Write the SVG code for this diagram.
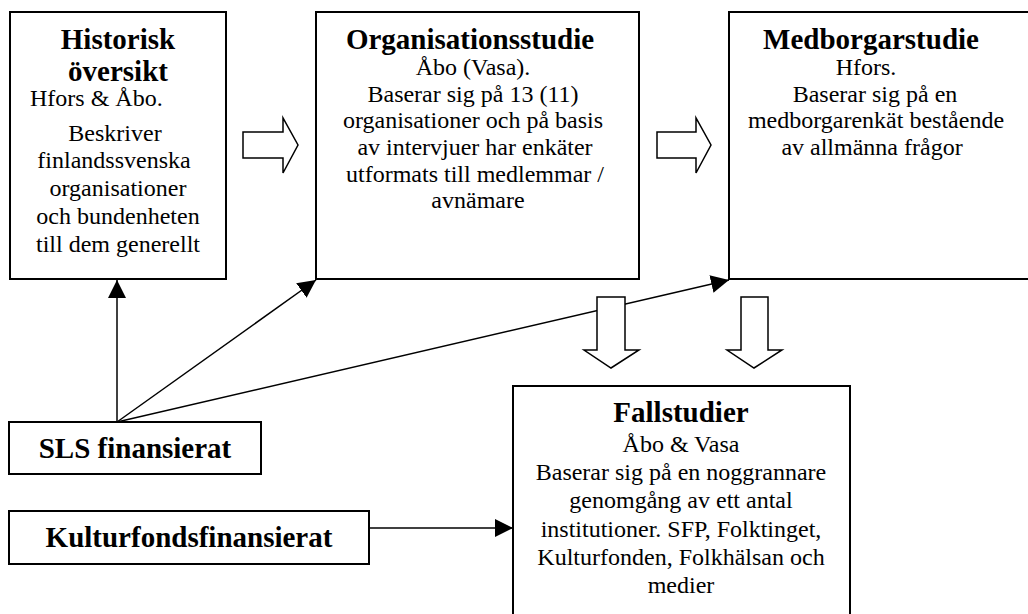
<svg xmlns="http://www.w3.org/2000/svg" width="1028" height="614" viewBox="0 0 1028 614">
<style>
.box{fill:#fff;stroke:#000;stroke-width:2}
.blk{fill:#fff;stroke:#000;stroke-width:1.5;stroke-linejoin:miter}
.ttl{font-family:"Liberation Serif","Times New Roman",serif;font-weight:bold;font-size:29px;text-anchor:middle;fill:#000}
.bdy{font-family:"Liberation Serif","Times New Roman",serif;font-weight:normal;font-size:24px;text-anchor:middle;fill:#000}
.con{fill:none;stroke:#000;stroke-width:1.5}
</style>
<defs>
<marker id="ah" markerUnits="userSpaceOnUse" markerWidth="18" markerHeight="18" viewBox="0 0 18 18" refX="18" refY="9" orient="auto">
<path d="M0,0 L18,9 L0,18 Z" fill="#000"/>
</marker>
</defs>
<rect width="1028" height="614" fill="#fff"/>

<g id="historisk" font-family="Liberation Serif, serif">
<rect class="box" x="10" y="12" width="216" height="267"/>
<text class="ttl" x="118" y="49">Historisk</text>
<text class="ttl" x="118" y="81">översikt</text>
<text class="bdy" x="30" y="106" text-anchor="start" style="text-anchor:start">Hfors &amp; Åbo.</text>
<text class="bdy" x="115" y="141">Beskriver</text>
<text class="bdy" x="114" y="168">finlandssvenska</text>
<text class="bdy" x="118" y="196">organisationer</text>
<text class="bdy" x="118" y="224">och bundenheten</text>
<text class="bdy" x="118" y="252">till dem generellt</text>
</g>

<g id="organisation" font-family="Liberation Serif, serif">
<rect class="box" x="316" y="12" width="323" height="267"/>
<text class="ttl" x="470" y="49">Organisationsstudie</text>
<text class="bdy" x="473" y="75">Åbo (Vasa).</text>
<text class="bdy" x="473" y="102">Baserar sig på 13 (11)</text>
<text class="bdy" x="473" y="128">organisationer och på basis</text>
<text class="bdy" x="475" y="155">av intervjuer har enkäter</text>
<text class="bdy" x="475" y="182">utformats till medlemmar /</text>
<text class="bdy" x="478" y="208">avnämare</text>
</g>

<g id="medborgar" font-family="Liberation Serif, serif">
<rect class="box" x="729" y="12" width="310" height="267"/>
<text class="ttl" x="871" y="49">Medborgarstudie</text>
<text class="bdy" x="866" y="75">Hfors.</text>
<text class="bdy" x="875" y="102">Baserar sig på en</text>
<text class="bdy" x="876" y="128">medborgarenkät bestående</text>
<text class="bdy" x="872" y="155">av allmänna frågor</text>
</g>

<g id="sls" font-family="Liberation Serif, serif">
<rect class="box" x="9" y="422" width="252" height="52"/>
<text class="ttl" x="135" y="458">SLS finansierat</text>
</g>

<g id="kultur" font-family="Liberation Serif, serif">
<rect class="box" x="9" y="511" width="360" height="53"/>
<text class="ttl" x="189" y="547">Kulturfondsfinansierat</text>
</g>

<g id="fallstudier" font-family="Liberation Serif, serif">
<rect class="box" x="513" y="386" width="337" height="240"/>
<text class="ttl" x="681" y="422">Fallstudier</text>
<text class="bdy" x="681" y="452">Åbo &amp; Vasa</text>
<text class="bdy" x="681" y="480">Baserar sig på en noggrannare</text>
<text class="bdy" x="681" y="508">genomgång av ett antal</text>
<text class="bdy" x="681" y="537">institutioner. SFP, Folktinget,</text>
<text class="bdy" x="681" y="565">Kulturfonden, Folkhälsan och</text>
<text class="bdy" x="681" y="593">medier</text>
</g>

<g id="connectors">
<line class="con" x1="117" y1="422" x2="117" y2="280" marker-end="url(#ah)"/>
<line class="con" x1="117" y1="422" x2="316" y2="280" marker-end="url(#ah)"/>
<line class="con" x1="117" y1="422" x2="729" y2="280" marker-end="url(#ah)"/>
<line class="con" x1="369" y1="528" x2="513" y2="528" marker-end="url(#ah)"/>
<path class="blk" d="M243,132 H283 V118 L298,145 L283,173 V158 H243 Z"/>
<path class="blk" d="M657,132 H696 V118 L711,145 L696,173 V158 H657 Z"/>
<path class="blk" d="M597,297 H625 V350 H639 L611,368 L584,350 H597 Z"/>
<path class="blk" d="M741,297 H768 V350 H782 L754,368 L727,350 H741 Z"/>
</g>
</svg>
